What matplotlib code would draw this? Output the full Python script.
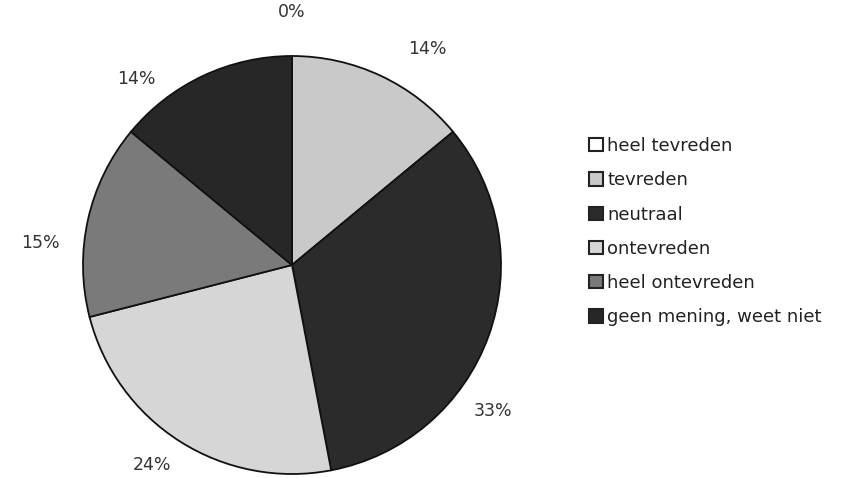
import numpy as np
import matplotlib.pyplot as plt
from matplotlib.patches import Patch

# Gegevens
categories = ['heel tevreden', 'tevreden', 'neutraal', 'ontevreden',
              'heel ontevreden', 'geen mening, weet niet']
values = [0, 14, 33, 24, 15, 14]
colors = ['#ffffff', '#c9c9c9', '#2b2b2b', '#d6d6d6', '#7a7a7a', '#272727']
# label positie (hoek in graden, afstand in straal) zoals in het origineel
label_angle = [90, 58, -36, -125, 175, 130]
label_dist = [1.21, 1.22, 1.19, 1.17, 1.21, 1.16]

plt.rcParams['font.family'] = 'DejaVu Sans'

fig = plt.figure(figsize=(8.5, 4.78), dpi=100)
r_px = 209
cx, cy = 292, 478 - 265
ax = fig.add_axes([(cx - r_px) / 850, (cy - r_px) / 478, 2 * r_px / 850, 2 * r_px / 478])

wedges, _ = ax.pie(values, colors=colors, startangle=90, counterclock=False,
                   wedgeprops=dict(edgecolor='#111111', linewidth=1.3))
ax.set_xlim(-1, 1)
ax.set_ylim(-1, 1)
ax.set_aspect('equal')

for v, a, d in zip(values, label_angle, label_dist):
    t = np.deg2rad(a)
    ax.text(d * np.cos(t), d * np.sin(t), f'{v}%', ha='center', va='center',
            fontsize=12.5, color='#333333', clip_on=False)

handles = [Patch(facecolor=c, edgecolor='#222222', linewidth=1.5) for c in colors]
leg = fig.legend(handles, categories, loc='upper left', bbox_to_anchor=(589 / 850, 1 - 137 / 478),
                 frameon=False, fontsize=13, handlelength=0.76, handleheight=0.76,
                 handletextpad=0.26, labelspacing=0.9, borderpad=0, borderaxespad=0)
for txt in leg.get_texts():
    txt.set_color('#222222')

plt.savefig('out.png', dpi=100)
